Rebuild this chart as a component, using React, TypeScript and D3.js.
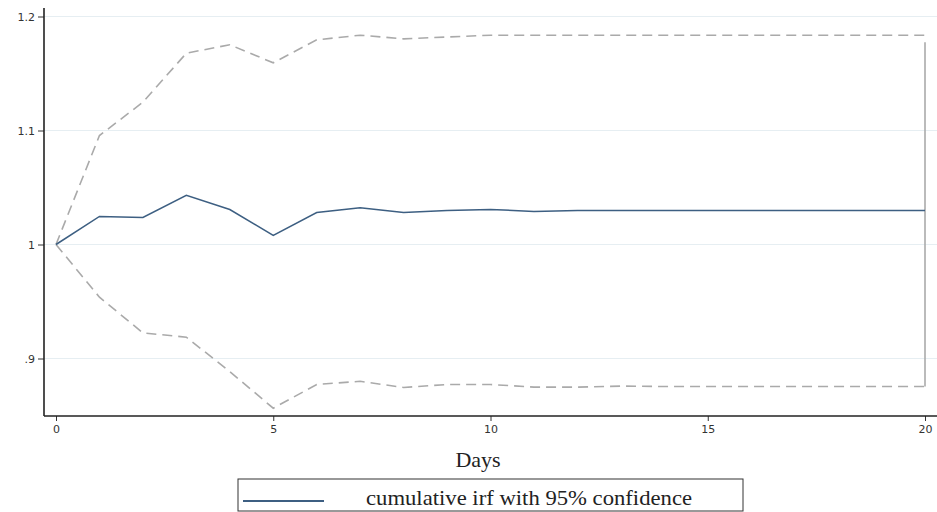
import React, { useEffect, useRef } from 'react';
import * as d3 from 'd3';

// cumulative irf with 95% confidence band, days 0..20
const days = d3.range(0, 21);
const irf = [1.0, 1.0246, 1.0237, 1.0432, 1.0307, 1.0079, 1.028, 1.0322, 1.028, 1.0298, 1.0307,
  1.029, 1.0298, 1.0298, 1.0298, 1.0298, 1.0298, 1.0298, 1.0298, 1.0298, 1.0298];
const upper = [1.0, 1.0956, 1.1248, 1.1678, 1.1752, 1.1594, 1.1795, 1.1836, 1.1804, 1.182, 1.1836,
  1.1836, 1.1836, 1.1836, 1.1836, 1.1836, 1.1836, 1.1836, 1.1836, 1.1836, 1.1836];
const lower = [1.0, 0.9538, 0.9225, 0.9187, 0.8885, 0.8564, 0.8772, 0.880, 0.8746, 0.8772, 0.8772,
  0.8749, 0.8749, 0.8758, 0.8754, 0.8754, 0.8754, 0.8754, 0.8754, 0.8754, 0.8754];
const yTicks = [0.9, 1.0, 1.1, 1.2];
const xTicks = [0, 5, 10, 15, 20];
const legendLabel = 'cumulative irf with 95% confidence';

const App = () => {
  const svgRef = useRef(null);
  const width = 937;
  const height = 512;

  useEffect(() => {
    const svg = d3.select(svgRef.current);
    svg.selectAll('*').remove();

    const x = d3.scaleLinear().domain([0, 20]).range([56, 925]);
    const y = d3.scaleLinear().domain([0.9, 1.2]).range([358.5, 16.5]);
    const axisLeftX = 44;
    const axisBottomY = 416;

    // grid lines
    svg.append('g')
      .selectAll('line')
      .data(yTicks)
      .enter().append('line')
      .attr('x1', axisLeftX)
      .attr('x2', width)
      .attr('y1', d => y(d))
      .attr('y2', d => y(d))
      .attr('stroke', '#e6eef2')
      .attr('stroke-width', 1);

    const line = d3.line<number>()
      .x((d, i) => x(days[i]))
      .y(d => y(d));

    // confidence bands
    svg.append('path')
      .attr('d', line(upper))
      .attr('fill', 'none')
      .attr('stroke', '#aaaaaa')
      .attr('stroke-width', 1.6)
      .attr('stroke-dasharray', '10,6');

    svg.append('path')
      .attr('d', line(lower))
      .attr('fill', 'none')
      .attr('stroke', '#aaaaaa')
      .attr('stroke-width', 1.6)
      .attr('stroke-dasharray', '10,6');

    // closing side of the band at last day
    const last = days.length - 1;
    svg.append('line')
      .attr('x1', x(days[last]))
      .attr('x2', x(days[last]))
      .attr('y1', y(upper[last]) + 7)
      .attr('y2', y(lower[last]))
      .attr('stroke', '#aaaaaa')
      .attr('stroke-width', 1.6);

    // irf line
    svg.append('path')
      .attr('d', line(irf))
      .attr('fill', 'none')
      .attr('stroke', '#3d5f82')
      .attr('stroke-width', 1.5);

    // Y axis
    const fmt = (d: number) => (d === 1 ? '1' : d < 1 ? d3.format('.1f')(d).replace(/^0/, '') : d3.format('.1f')(d));
    const yAxis = svg.append('g')
      .attr('transform', `translate(${axisLeftX},0)`)
      .call(d3.axisLeft(y).tickValues(yTicks).tickFormat(fmt as any).tickSize(6).tickPadding(3));
    yAxis.select('.domain').remove();
    yAxis.append('line')
      .attr('x1', 0).attr('x2', 0)
      .attr('y1', 8).attr('y2', axisBottomY)
      .attr('stroke', '#222').attr('stroke-width', 1.6);
    yAxis.selectAll('.tick line').attr('stroke', '#333');
    yAxis.selectAll('text')
      .style('font-size', '11px')
      .style('font-family', 'DejaVu Sans')
      .attr('fill', '#333');

    // X axis
    const xAxis = svg.append('g')
      .attr('transform', `translate(0,${axisBottomY})`)
      .call(d3.axisBottom(x).tickValues(xTicks).tickFormat(d3.format('d') as any).tickSize(5).tickPadding(4));
    xAxis.select('.domain').remove();
    xAxis.append('line')
      .attr('x1', axisLeftX).attr('x2', width)
      .attr('y1', 0).attr('y2', 0)
      .attr('stroke', '#222').attr('stroke-width', 1.6);
    xAxis.selectAll('.tick line').attr('stroke', '#333');
    xAxis.selectAll('text')
      .style('font-size', '11px')
      .style('font-family', 'DejaVu Sans')
      .attr('fill', '#333');

    // axis title
    svg.append('text')
      .attr('x', 478)
      .attr('y', 467)
      .style('text-anchor', 'middle')
      .style('font-family', 'Liberation Serif')
      .style('font-size', '22px')
      .attr('fill', '#222')
      .text('Days');

    // legend
    const legend = svg.append('g');
    legend.append('rect')
      .attr('x', 238).attr('y', 479)
      .attr('width', 505).attr('height', 32)
      .attr('fill', 'none')
      .attr('stroke', '#333')
      .attr('stroke-width', 1);
    legend.append('line')
      .attr('x1', 243).attr('x2', 324)
      .attr('y1', 501).attr('y2', 501)
      .attr('stroke', '#3d5f82')
      .attr('stroke-width', 2);
    legend.append('text')
      .attr('x', 366)
      .attr('y', 505)
      .attr('textLength', 326)
      .attr('lengthAdjust', 'spacingAndGlyphs')
      .style('font-family', 'Liberation Serif')
      .style('font-size', '21px')
      .attr('fill', '#222')
      .text(legendLabel);
  }, []);

  return (
    <div style={{ position: 'absolute', left: 0, top: 0, width, height, background: '#fff' }}>
      <svg ref={svgRef} width={width} height={height} />
    </div>
  );
};

export default App;
